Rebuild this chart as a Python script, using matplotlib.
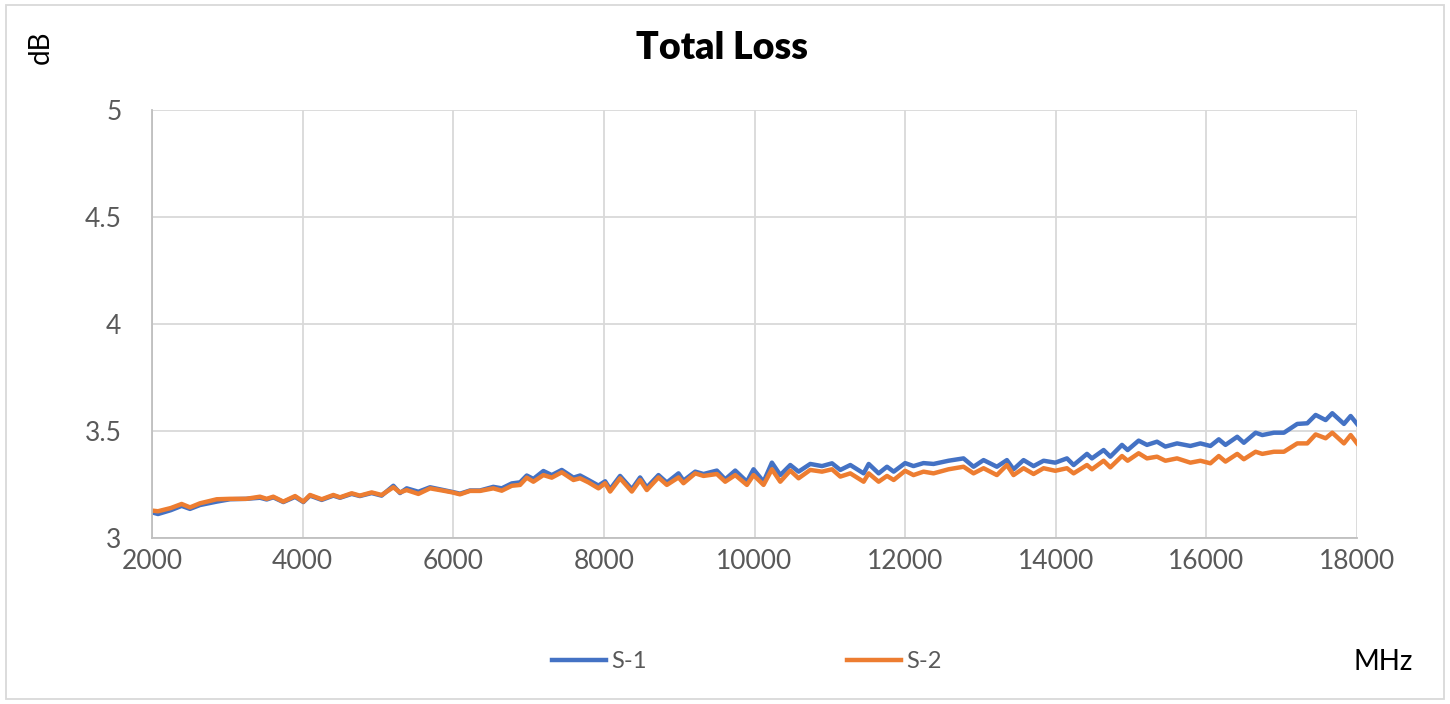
import numpy as np
import matplotlib.pyplot as plt

# frequency points (MHz) and total loss (dB)
freq = [2000, 2080, 2250, 2394, 2505, 2637, 2860, 3036, 3250, 3434, 3523, 3611,
        3744, 3900, 4010, 4098, 4254, 4408, 4497, 4652, 4760, 4917, 5049, 5205,
        5293, 5382, 5537, 5692, 5869, 5990, 6090, 6223, 6355, 6532, 6644, 6777,
        6887, 6976, 7064, 7197, 7308, 7441, 7596, 7684, 7795, 7928, 8017, 8083,
        8215, 8371, 8481, 8570, 8725, 8836, 8991, 9057, 9213, 9323, 9500, 9611,
        9744, 9899, 9987, 10120, 10231, 10342, 10475, 10585, 10740, 10896, 11029,
        11139, 11272, 11449, 11516, 11648, 11759, 11848, 12000, 12111, 12244,
        12377, 12576, 12775, 12908, 13041, 13218, 13351, 13439, 13572, 13705,
        13838, 13993, 14148, 14237, 14414, 14480, 14635, 14724, 14879, 14954,
        15100, 15211, 15344, 15455, 15610, 15787, 15920, 16053, 16164, 16253,
        16409, 16497, 16653, 16742, 16896, 17029, 17206, 17339, 17450, 17583,
        17671, 17826, 17915, 18000]

s1 = [3.120, 3.112, 3.130, 3.150, 3.136, 3.154, 3.170, 3.181, 3.183, 3.188, 3.180, 3.190,
      3.168, 3.192, 3.168, 3.198, 3.178, 3.198, 3.188, 3.206, 3.196, 3.210, 3.198, 3.244,
      3.210, 3.232, 3.216, 3.237, 3.224, 3.215, 3.207, 3.222, 3.222, 3.239, 3.232, 3.255,
      3.260, 3.292, 3.276, 3.313, 3.294, 3.318, 3.282, 3.292, 3.271, 3.245, 3.265, 3.228,
      3.290, 3.228, 3.283, 3.236, 3.294, 3.259, 3.302, 3.268, 3.310, 3.299, 3.315, 3.274,
      3.315, 3.263, 3.321, 3.263, 3.352, 3.294, 3.341, 3.310, 3.346, 3.336, 3.349,
      3.318, 3.341, 3.302, 3.346, 3.302, 3.333, 3.310, 3.350, 3.336, 3.350,
      3.346, 3.361, 3.372, 3.333, 3.364, 3.333, 3.364, 3.321, 3.364, 3.336,
      3.361, 3.352, 3.372, 3.341, 3.393, 3.372, 3.411, 3.380, 3.435, 3.411,
      3.455, 3.435, 3.450, 3.427, 3.442, 3.430, 3.442, 3.430, 3.461, 3.435,
      3.473, 3.445, 3.492, 3.481, 3.492, 3.492, 3.533, 3.536, 3.575, 3.551,
      3.583, 3.533, 3.570, 3.533]

s2 = [3.128, 3.125, 3.140, 3.159, 3.143, 3.162, 3.181, 3.183, 3.183, 3.193, 3.183, 3.193,
      3.170, 3.196, 3.170, 3.201, 3.181, 3.201, 3.190, 3.209, 3.198, 3.213, 3.201, 3.237,
      3.213, 3.224, 3.206, 3.232, 3.221, 3.213, 3.204, 3.220, 3.220, 3.232, 3.221, 3.244,
      3.248, 3.282, 3.263, 3.294, 3.282, 3.307, 3.271, 3.279, 3.260, 3.232, 3.256, 3.217,
      3.279, 3.217, 3.271, 3.224, 3.283, 3.248, 3.283, 3.256, 3.302, 3.290, 3.299, 3.263,
      3.294, 3.248, 3.294, 3.248, 3.321, 3.263, 3.315, 3.279, 3.318, 3.310, 3.321,
      3.287, 3.302, 3.263, 3.302, 3.263, 3.290, 3.271, 3.314, 3.294, 3.310,
      3.302, 3.321, 3.333, 3.302, 3.326, 3.294, 3.341, 3.294, 3.326, 3.299,
      3.326, 3.314, 3.326, 3.302, 3.341, 3.321, 3.361, 3.330, 3.383, 3.361,
      3.396, 3.372, 3.380, 3.361, 3.372, 3.352, 3.361, 3.349, 3.383, 3.357,
      3.393, 3.368, 3.403, 3.393, 3.403, 3.403, 3.442, 3.442, 3.484, 3.466,
      3.492, 3.442, 3.481, 3.442]

xticks = [2000, 4000, 6000, 8000, 10000, 12000, 14000, 16000, 18000]
yticks = [3, 3.5, 4, 4.5, 5]
ytick_labels = ["3", "3.5", "4", "4.5", "5"]

plt.rcParams['font.family'] = ['Lato', 'DejaVu Sans']

fig = plt.figure(figsize=(14.5, 7.04), dpi=100)
ax = fig.add_axes([0.1048, 0.2358, 0.8311, 0.608])

ax.plot(freq, s1, color='#4472C4', lw=3.2, solid_joinstyle='round', label='S-1')
ax.plot(freq, s2, color='#ED7D31', lw=3.2, solid_joinstyle='round', label='S-2')

ax.set_xlim(2000, 18000)
ax.set_ylim(3, 5)
ax.set_xticks(xticks)
ax.set_yticks(yticks)
ax.set_yticklabels(ytick_labels)
ax.grid(True, color='#d9d9d9', lw=1.3)
ax.set_axisbelow(True)
for sp in ['top', 'right']:
    ax.spines[sp].set_visible(False)
for sp in ['left', 'bottom']:
    ax.spines[sp].set_color('#bfbfbf')
    ax.spines[sp].set_linewidth(1.3)
ax.tick_params(length=0, labelsize=19, labelcolor='#595959')
ax.tick_params(axis='y', pad=22)
ax.tick_params(axis='x', pad=8)

fig.text(0.498, 0.932, 'Total Loss', ha='center', va='center',
         fontsize=27, fontweight='heavy', color='black')
fig.text(0.028, 0.933, 'dB', rotation=90, ha='center', va='center',
         fontsize=20, color='black')
fig.text(0.954, 0.06, 'MHz', ha='center', va='center', fontsize=20, color='black')

leg = fig.legend(loc='center', bbox_to_anchor=(0.515, 0.06), ncol=2, frameon=False,
                 fontsize=17, handlelength=2.3, columnspacing=8.5, handletextpad=0.2)
for t in leg.get_texts():
    t.set_color('#595959')

# outer chart border
fig.patches.append(plt.Rectangle((0.004, 0.007), 0.992, 0.986, transform=fig.transFigure,
                                 fill=False, edgecolor='#d9d9d9', lw=1.3))

fig.savefig('out.png', dpi=100)
